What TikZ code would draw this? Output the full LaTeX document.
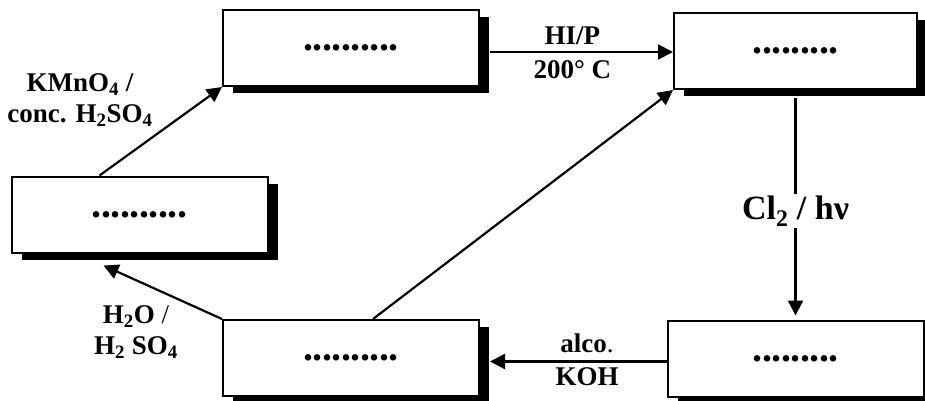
\documentclass[tikz,border=0pt]{standalone}
\usepackage{fontspec}
\setmainfont{Liberation Serif}
\usepackage{tikz}
\usetikzlibrary{arrows.meta,shadows}
\newcommand{\blanks}[1]{\foreach \i in {1,...,#1}{.\kern-0.5pt}\kern0.5pt}

\begin{document}
\begin{tikzpicture}[
    x=1pt,y=1pt,
    box/.style={draw,fill=white,line width=2pt,minimum width=256pt,minimum height=76pt,
      inner sep=0pt,font=\fontsize{40}{40}\selectfont\bfseries,
      drop shadow={shadow xshift=10pt,shadow yshift=-7pt,fill=black,opacity=1}},
    reagent/.style={align=center,font=\fontsize{27}{31}\selectfont\bfseries,inner sep=2pt},
    arrow/.style={-{Triangle[length=15pt,width=15pt]},line width=2.2pt}
  ]
    \useasboundingbox (0,0) rectangle (925,400);
    \node[box] (acid) at (351,352) {\blanks{10}};
    \node[box,minimum width=243pt] (alkane) at (795.5,349) {\blanks{9}};
    \node[box] (alcohol) at (139.5,185.5) {\blanks{10}};
    \node[box] (alkene) at (351,42) {\blanks{10}};
    \node[box] (chloride) at (795.5,41.5) {\blanks{9}};
    \node[reagent] (kmno) at (80,300) {KMnO\textsubscript{4} /\\conc. H\textsubscript{2}SO\textsubscript{4}};
    \node[reagent] (hydr) at (136,68) {H\textsubscript{2}O \textmd{/}\\H\textsubscript{2} SO\textsubscript{4}};
    \draw[arrow] ([xshift=-40pt]alcohol.north) -- (acid.south west);
    \draw[arrow] ([xshift=10pt,yshift=-1pt]acid.east |- alkane.west) -- ([yshift=-1pt]alkane.west)
      node[reagent,pos=0.45,above=4pt] {HI/P} node[reagent,pos=0.45,below=5pt] {200° C};
    \draw[arrow] ([yshift=-8pt]alkane.south) -- ([yshift=4pt]chloride.north)
      node[pos=0.52,fill=white,inner sep=2pt,font=\fontsize{34}{34}\selectfont\bfseries] {Cl\textsubscript{2} / hν};
    \draw[arrow] ([yshift=-3pt]chloride.west) -- ([xshift=10pt,yshift=-3pt]alkene.east |- chloride.west)
      node[reagent,pos=0.45,above=6pt] {alco\textmd{.}} node[reagent,pos=0.45,below=3pt] {KOH};
    \draw[arrow] (alkene.north west) -- ([xshift=-36pt,yshift=-12pt]alcohol.south);
    \draw[arrow] ([xshift=22pt]alkene.north) -- (alkane.south west);
  \end{tikzpicture}
\end{document}
